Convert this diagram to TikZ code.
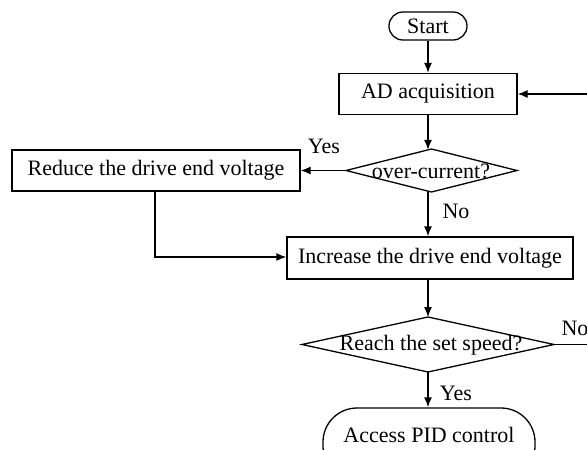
\documentclass[tikz,border=0pt]{standalone}
\usepackage{fontspec}
\setmainfont{Liberation Serif}
\usetikzlibrary{shapes.geometric,arrows.meta}
\begin{document}
\begin{tikzpicture}[x=1pt,y=-1pt,
  every node/.style={font=\fontsize{22}{24}\selectfont, inner sep=0pt},
  box/.style={draw, line width=1.3pt, rectangle},
  term/.style={draw, line width=1.3pt, rectangle},
  arr/.style={line width=1.3pt, -{Latex[length=10pt,width=8pt]}},
  ln/.style={line width=1.3pt},
  lab/.style={font=\fontsize{22}{24}\selectfont}]
\clip (0,0) rectangle (587,450);
\fill[white] (0,0) rectangle (587,450);
\node[term, rounded corners=13.9pt, minimum width=78pt, minimum height=28pt] (start) at (428,26) {Start};
\node[box, minimum width=178pt, minimum height=41pt] (ad) at (428,94) {AD acquisition};
\draw[ln] (346,170.5) -- (431.5,149) -- (517,170.5) -- (431.5,192) -- cycle;
\coordinate (d1n) at (428,149.8);
\coordinate (d1s) at (428,191.2);
\coordinate (d1w) at (346,170.5);
\node (d1t) at (431,171) {over-current?};
\node[box, minimum width=288pt, minimum height=41pt] (red) at (156,170.5) {Reduce the drive end voltage};
\node[box, minimum width=286pt, minimum height=42pt] (inc) at (430,258) {Increase the drive end voltage};
\draw[ln] (302,344.5) -- (428,317) -- (554,344.5) -- (428,372) -- cycle;
\coordinate (d2n) at (428,317);
\coordinate (d2s) at (428,372);
\coordinate (d2e) at (554,344.5);
\node (d2t) at (431,345) {Reach the set speed?};
\node[term, rounded corners=34pt, minimum width=212pt, minimum height=72pt] (pid) at (429,444) {};
\node (pidt) at (429,435) {Access PID control};
\coordinate (rtop) at (592,94);
\coordinate (rbot) at (592,344.5);
\coordinate (redc) at (155,257);
\draw[arr] (start.south) -- (start.south |- ad.north);
\draw[arr] (ad.south -| d1n) -- (d1n);
\draw[arr] (d1w) -- (red.east);
\draw[arr] (d1s) -- (d1s |- inc.north);
\draw[arr] (red.south -| redc) -- (redc) -- (inc.west |- redc);
\draw[arr] (inc.south -| d2n) -- (d2n);
\draw[arr] (d2s) -- (d2s |- pid.north);
\draw[ln] (d2e) -- (rbot) -- (rtop);
\draw[arr] (rtop) -- (ad.east);
\node[lab] (yes1) at (324,146) {Yes};
\node[lab] (no1) at (456,211) {No};
\node[lab] (yes2) at (456,393) {Yes};
\node[lab] (no2) at (575,328) {No};
\end{tikzpicture}
\end{document}
